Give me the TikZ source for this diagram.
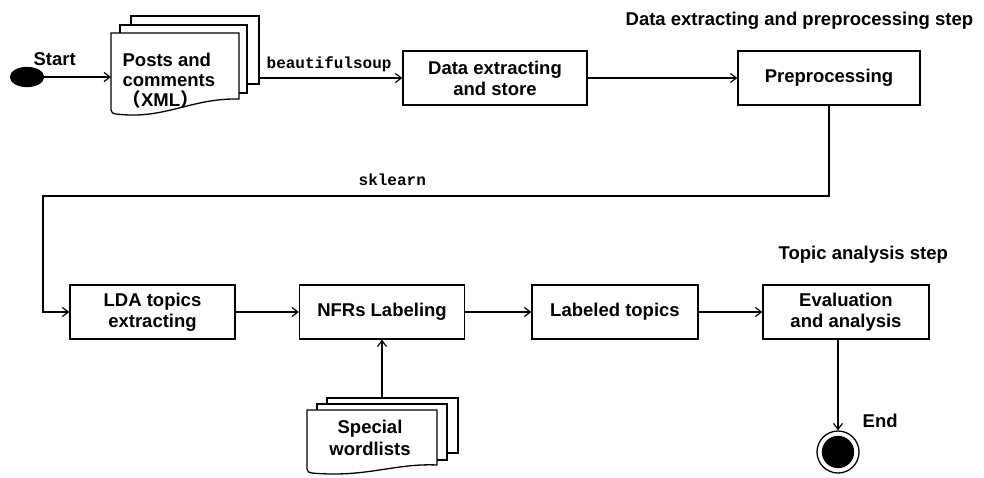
\documentclass[tikz,border=0pt]{standalone}
\usepackage{fontspec}
\setmainfont{Liberation Sans}
\setmonofont{Liberation Mono}
\newfontfamily\cjk{Noto Sans CJK SC}
\usetikzlibrary{arrows.meta,shapes.geometric}
\begin{document}
\begin{tikzpicture}[x=1pt,y=-1pt, line width=1.3pt,
  box/.style={draw, minimum height=54pt, align=center, font=\bfseries\fontsize{18.5}{21}\selectfont, inner sep=0pt},
  arr/.style={-{Straight Barb[length=6pt,width=9pt,line width=1.2pt]}},
  lbl/.style={font=\bfseries\fontsize{18.5}{20}\selectfont, inner sep=0pt},
  code/.style={font=\ttfamily\bfseries\fontsize{16}{18}\selectfont, inner sep=0pt},
  doc/.style={draw, fill=white, line join=miter}]
\useasboundingbox (0,0) rectangle (984,477);

% titles
\node[lbl, anchor=base west] (t1) at (625,25) {Data extracting and preprocessing step};
\node[lbl, anchor=base west] (t2) at (778,259) {Topic analysis step};

% start
\node[draw, fill=black, ellipse, minimum width=33pt, minimum height=19pt, inner sep=0pt] (start) at (27,77) {};
\node[lbl, anchor=base west] (startl) at (33,65) {Start};

% posts stack
\draw[doc] (131,16) rectangle (259,84);
\draw[doc] (120,25) rectangle (247,93);
\draw[doc] (111,33) -- (239,33) -- (239,99) .. controls (190,98) and (165,120) .. (116,114) .. controls (112,113) .. (111,110) -- cycle;
\node[lbl, align=left, anchor=north west, font=\bfseries\fontsize{18.5}{20}\selectfont] (posts) at (122,52) {Posts and\\comments\\{\cjk （}XML{\cjk ）}};
\coordinate (postsL) at (111,77);
\coordinate (postsR) at (259,78);

% boxes
\node[box, minimum width=184pt] (store) at (495,78) {Data extracting\\and store};
\node[box, minimum width=182pt] (prep) at (829,78) {Preprocessing};
\node[box, minimum width=165pt] (lda) at (152.5,312) {LDA topics\\extracting};
\node[box, minimum width=165pt] (nfr) at (382,312) {NFRs Labeling};
\node[box, minimum width=166pt] (lab) at (615,312) {Labeled topics};
\node[box, minimum width=166pt] (eval) at (846,312) {Evaluation\\and analysis};

% special wordlists stack
\draw[doc] (327,398) rectangle (458,453);
\draw[doc] (317,404) rectangle (447,460);
\draw[doc] (307,410) -- (437,410) -- (437,465) .. controls (395,463) and (365,478) .. (312,473) .. controls (308,472) .. (307,469) -- cycle;
\node[lbl, align=center, font=\bfseries\fontsize{18.5}{22}\selectfont] (spec) at (370,438) {Special\\wordlists};
\coordinate (specT) at (382,398);

% end
\node[draw, circle, minimum size=42pt, inner sep=0pt] (endo) at (838,452) {};
\node[draw, fill=black, circle, minimum size=31pt, inner sep=0pt] (endi) at (838,452) {};
\node[lbl, anchor=base west] (endl) at (862,427) {End};

% connectors
\coordinate (c1) at (829,196);
\coordinate (c2) at (43,196);
\draw[arr] (start.east) -- (postsL);
\draw[arr] (postsR) -- (store.west);
\node[code, anchor=base west] (bs) at (266,68) {beautifulsoup};
\draw[arr] (store.east) -- (prep.west);
\draw[arr] (prep.south) -- (c1) -- (c2) |- (lda.west);
\node[code, anchor=base west] (sk) at (358,185) {sklearn};
\draw[arr] (lda.east) -- (nfr.west);
\draw[arr] (nfr.east) -- (lab.west);
\draw[arr] (lab.east) -- (eval.west);
\draw[arr] (specT) -- (nfr.south);
\draw[arr] (eval.south -| endo.north) -- (endo.north);
\end{tikzpicture}
\end{document}
